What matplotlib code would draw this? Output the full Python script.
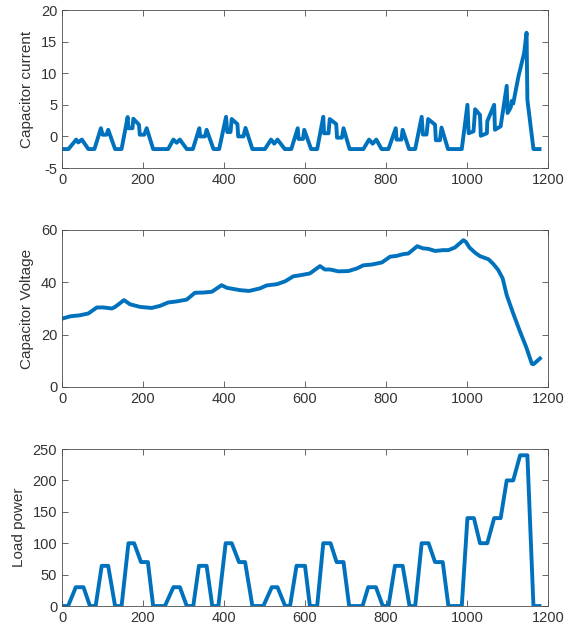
import numpy as np
import matplotlib.pyplot as plt

plt.rcParams['font.family'] = ['Liberation Sans', 'DejaVu Sans']
plt.rcParams['axes.unicode_minus'] = False

# Prúd kondenzátora (čas, hodnota)
t_prud = [0, 16, 35, 40, 49, 65, 80, 96, 100, 110, 114, 131, 147, 162, 164, 174, 176, 190, 192, 203, 209, 225,
          262, 275, 283, 291, 308, 323, 339, 341, 353, 357, 374, 388, 405, 408, 416, 419, 433, 435, 448, 453, 470,
          501, 516, 524, 532, 550, 566, 582, 584, 595, 598, 615, 630, 645, 647, 658, 661, 677, 679, 691, 695, 710,
          744, 758, 767, 776, 789, 806, 824, 826, 838, 841, 857, 872, 888, 891, 900, 904, 921, 923, 933, 937, 953,
          987, 1001, 1004, 1016, 1020, 1032, 1034, 1049, 1050, 1067, 1069, 1083, 1098, 1100, 1108, 1110, 1114,
          1127, 1141, 1147, 1149, 1164, 1179]
prud = [-2, -2, -0.5, -0.95, -0.5, -2, -2, 1.3, 0.27, 0.27, 1.05, -2, -2, 3.06, 1.3, 1.3, 2.8, 1.85, 0.27, 0.27, 1.3, -2,
        -2, -0.5, -1.0, -0.5, -2, -2, 1.3, 0.0, 0.0, 1.05, -2, -2, 3.1, 0.7, 0.7, 2.75, 1.95, 0.0, 0.0, 1.35, -2,
        -2, -0.5, -1.15, -0.5, -2, -2, 1.3, -0.4, -0.4, 1.05, -2, -2, 3.1, 0.5, 0.5, 2.75, 1.95, -0.2, -0.2, 1.3, -2,
        -2, -0.5, -1.15, -0.5, -2, -2, 1.3, -0.5, -0.5, 1.05, -2, -2, 3.1, 0.3, 0.3, 2.75, 1.85, -0.6, -0.6, 1.4, -2,
        -2, 5.0, 0.5, 0.8, 4.3, 3.4, 0.1, 0.5, 2.4, 5.0, 1.05, 1.6, 8.0, 3.7, 4.6, 5.6, 5.2,
        9.5, 13.2, 16.4, 5.8, -2, -2]

# Napätie kondenzátora
t_nap = [2, 20, 44, 65, 86, 102, 123, 131, 153, 168, 193, 221, 242, 262, 283, 308, 328, 349, 370, 394, 407,
         440, 462, 489, 505, 531, 551, 571, 588, 612, 637, 649, 662, 682, 707, 728, 744, 765, 790, 810, 826,
         843, 855, 877, 891, 904, 921, 941, 954, 970, 991, 997, 1006, 1020, 1032, 1053, 1065, 1077, 1088,
         1098, 1114, 1131, 1146, 1160, 1164, 1180]
napatie = [26.2, 27.0, 27.4, 28.1, 30.4, 30.4, 30.0, 30.6, 33.2, 31.6, 30.6, 30.2, 31.0, 32.3, 32.7, 33.4, 36.0,
           36.1, 36.4, 38.9, 37.9, 37.0, 36.7, 37.7, 38.8, 39.3, 40.4, 42.3, 42.7, 43.4, 46.2, 44.9, 44.9, 44.2,
           44.3, 45.3, 46.5, 46.8, 47.6, 49.8, 50.1, 50.8, 51.0, 53.8, 53.0, 52.8, 52.0, 52.3, 52.3, 53.3, 56.1,
           55.5, 53.3, 51.3, 50.0, 48.8, 47.0, 44.7, 41.5, 35.1, 28.1, 21.1, 15.3, 8.9, 8.7, 10.9]

# Výkon záťaže
t_vykon = [0, 15, 34, 53, 69, 83, 98, 114, 131, 147, 164, 178, 195, 212, 225,
           254, 275, 291, 308, 324, 338, 357, 371, 386, 404, 419, 437, 452, 470,
           497, 518, 532, 551, 563, 579, 600, 612, 630, 645, 663, 678, 695, 709,
           742, 756, 775, 792, 806, 822, 841, 858, 872, 888, 905, 921, 940, 954,
           987, 1001, 1017, 1032, 1050, 1067, 1083, 1098, 1114, 1131, 1149, 1164, 1179]
vykon = [0, 0, 30, 30, 0, 0, 64, 64, 0, 0, 100, 100, 70, 70, 0,
         0, 30, 30, 0, 0, 64, 64, 0, 0, 100, 100, 70, 70, 0,
         0, 30, 30, 0, 0, 64, 64, 0, 0, 100, 100, 70, 70, 0,
         0, 30, 30, 0, 0, 64, 64, 0, 0, 100, 100, 70, 70, 0,
         0, 140, 140, 100, 100, 140, 140, 200, 200, 240, 240, 0, 0]

farba = '#0072BD'
siva = '#4d4d4d'

fig = plt.figure(figsize=(5.77, 6.26), dpi=100)
pozicie = [[0.1075, 0.7316, 0.8423, 0.2524],
           [0.1075, 0.3818, 0.8423, 0.2508],
           [0.1075, 0.0319, 0.8423, 0.2508]]

grafy = [(t_prud, prud, 'Capacitor current', (-5, 20), np.arange(-5, 21, 5)),
         (t_nap, napatie, 'Capacitor Voltage', (0, 60), np.arange(0, 61, 20)),
         (t_vykon, vykon, 'Load power', (0, 250), np.arange(0, 251, 50))]

for poz, (t, y, nazov, lim, ticky) in zip(pozicie, grafy):
    ax = fig.add_axes(poz)
    ax.plot(t, y, color=farba, linewidth=2.8, solid_joinstyle='round')
    ax.set_xlim(0, 1200)
    ax.set_ylim(*lim)
    ax.set_xticks(np.arange(0, 1201, 200))
    ax.set_yticks(ticky)
    ax.set_ylabel(nazov, fontsize=11, color='#333333', labelpad=5)
    ax.tick_params(direction='in', top=True, right=True, length=4, width=0.6,
                   colors=siva, labelcolor='#333333', labelsize=10.5)
    for s in ax.spines.values():
        s.set_color(siva)
        s.set_linewidth(0.6)

fig.savefig('out.png', dpi=100)
